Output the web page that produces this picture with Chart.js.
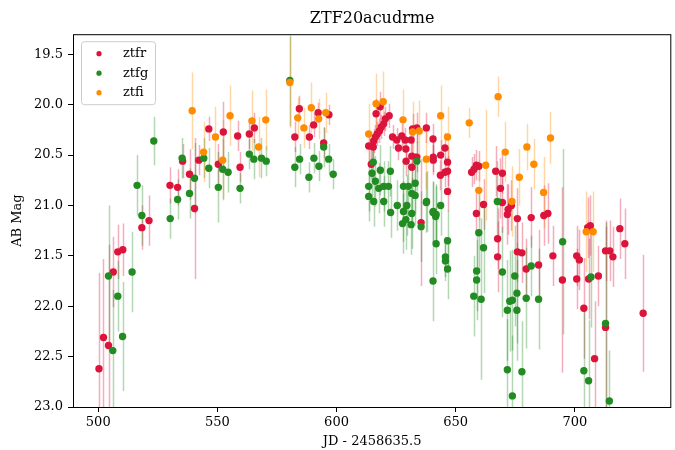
<!DOCTYPE html>
<html>
<head>
<meta charset="utf-8">
<script src="https://cdn.jsdelivr.net/npm/chart.js@4"></script>
<style>
  body { margin: 0; background: #fff; }
  #wrap { width: 675px; height: 450px; }
</style>
</head>
<body>
<div id="wrap"><canvas id="lc" width="675" height="450"></canvas></div>
<script>
// Light curve data (JD - 2458635.5, AB mag, error)
const rX = [500.3, 502.2, 504.3, 506.3, 508.2, 510.3, 518.3, 521.3, 530.1, 533.3, 535.4, 538.3, 540.4, 542.2, 546.4, 550.4, 552.5, 558.5, 559.5, 563.4, 565.5,
  582.5, 584.4, 588.6, 590.4, 592.3, 594.6, 596.8,
  613.5, 614.6, 615.4, 615.6, 616.3, 616.6, 617.1, 618.0, 618.3, 618.8, 619.8, 620.5, 622.1, 623.5, 625.3, 626.0, 627.4, 628.8, 629.1, 629.2,
  631.3, 631.6, 631.6, 631.9, 633.7, 633.7, 635.5, 637.7, 640.5, 640.6, 640.6, 643.6, 643.7, 645.5, 645.5, 646.6, 646.6, 646.6,
  656.7, 657.7, 658.7, 659.7, 658.7, 661.7, 666.8, 667.6, 667.6, 668.8, 669.6, 669.6, 671.7, 672.0, 673.4, 675.9, 675.9, 677.8, 679.6,
  681.7, 684.8, 687.0, 688.7, 690.8, 694.8, 700.8, 700.8, 701.9, 703.8, 705.4, 706.5, 705.8, 708.3, 709.9, 712.9, 712.9, 714.7, 716.0,
  718.9, 721.0, 728.7];
const rY = [22.62, 22.31, 22.39, 21.66, 21.46, 21.44, 21.22, 21.15, 20.80, 20.82, 20.56, 20.69, 21.03, 20.55, 20.24, 20.59, 20.27, 20.31, 20.62, 20.29, 20.23,
  20.32, 20.04, 20.32, 20.20, 20.08, 20.38, 20.10,
  20.41, 20.59, 20.42, 20.36, 20.32, 20.09, 20.29, 20.26, 20.02, 20.22, 20.19, 20.14, 20.11, 20.32, 20.35, 20.43, 20.31, 20.35, 20.44, 20.56,
  20.35, 20.51, 20.62, 20.24, 20.23, 20.52, 21.17, 20.23, 20.34, 20.52, 20.55, 20.70, 20.50, 20.43, 20.67, 20.57, 20.66, 20.86,
  20.67, 20.64, 20.60, 20.61, 21.08, 20.99, 20.66, 21.33, 21.51, 20.83, 20.68, 20.97, 21.09, 21.04, 21.00, 21.13, 21.46, 21.47, 21.63,
  21.12, 21.59, 21.10, 21.08, 21.50, 21.74, 21.50, 21.73, 21.54, 22.02, 21.22, 21.20, 21.73, 22.52, 21.70, 21.45, 22.21, 21.45, 21.51,
  21.23, 21.38, 22.07];
const rErr = [0.95, 0.78, 1.0, 0.35, 0.27, 0.26, 0.22, 0.25, 0.18, 0.18, 0.17, 0.25, 0.7, 0.15, 0.12, 0.2, 0.3, 0.15, 0.15, 0.15, 0.15,
  0.15, 0.13, 0.12, 0.12, 0.1, 0.15, 0.1,
  0.15, 0.15, 0.12, 0.12, 0.12, 0.15, 0.12, 0.12, 0.15, 0.12, 0.12, 0.12, 0.12, 0.12, 0.12, 0.12, 0.12, 0.12, 0.12, 0.15,
  0.12, 0.15, 0.15, 0.15, 0.15, 0.15, 0.63, 0.15, 0.15, 0.15, 0.15, 0.15, 0.15, 0.15, 0.15, 0.15, 0.15, 0.2,
  0.15, 0.15, 0.15, 0.15, 0.2, 0.25, 0.25, 0.3, 0.35, 0.3, 0.2, 0.3, 0.3, 0.25, 0.25, 0.3, 0.3, 0.3, 0.3,
  0.3, 0.35, 0.3, 0.3, 0.3, 0.92, 0.3, 0.3, 0.3, 0.5, 0.3, 0.3, 0.4, 0.57, 0.3, 0.3, 1.0, 0.3, 0.3,
  0.3, 0.35, 0.58];

const gX = [504.3, 506.1, 508.2, 510.2, 514.2, 516.3, 518.3, 523.3, 530.2, 533.3, 535.2, 538.3, 540.4, 544.3, 546.4, 550.4, 552.2, 554.5, 559.5, 563.4, 565.3, 568.5, 570.5,
  580.4, 582.5, 584.5, 588.4, 590.5, 592.6, 594.6, 596.7, 598.6,
  613.5, 613.5, 614.9, 615.4, 615.6, 616.3, 617.7, 618.4, 619.8, 619.8, 621.8, 622.6, 622.7, 625.5, 627.7, 628.1, 628.1, 629.1, 629.5, 630.2,
  631.3, 631.6, 631.6, 633.0, 633.0, 633.7, 635.5, 637.7, 637.8, 640.5, 640.5, 640.6, 641.6, 641.8, 641.8, 643.7, 645.7, 645.7, 646.6, 646.6,
  657.6, 658.8, 658.8, 659.7, 660.7, 661.7, 667.5, 669.6, 671.7, 671.7, 672.7, 673.8, 673.8, 674.8, 675.7, 675.7, 677.8, 679.6, 681.7, 684.8,
  694.9, 703.8, 705.8, 706.8, 712.9, 714.5];
const gY = [21.70, 22.44, 21.90, 22.30, 21.66, 20.80, 21.10, 20.36, 21.13, 20.94, 20.53, 20.88, 20.73, 20.53, 20.63, 20.82, 20.64, 20.67, 20.83, 20.49, 20.54, 20.53, 20.56,
  19.76, 20.62, 20.54, 20.72, 20.53, 20.61, 20.42, 20.54, 20.69,
  20.81, 20.91, 20.68, 20.57, 20.96, 20.76, 20.83, 20.65, 20.81, 20.96, 20.81, 20.66, 21.07, 21.00, 21.18, 20.81, 21.06, 21.14, 21.00, 20.81,
  21.19, 20.88, 21.08, 20.90, 20.78, 20.56, 21.21, 20.97, 20.96, 21.07, 21.75, 21.06, 21.11, 21.09, 21.38, 21.00, 21.51, 21.55, 21.35, 21.63,
  21.90, 21.65, 21.74, 21.27, 21.93, 21.42, 20.96, 21.66, 22.04, 22.63, 21.95, 21.94, 22.89, 21.70, 21.87, 22.04, 22.65, 21.92, 21.60, 21.93,
  21.36, 22.64, 22.74, 21.71, 22.17, 22.94];
const gErr = [0.7, 0.6, 0.35, 0.54, 0.4, 0.3, 0.3, 0.24, 0.2, 0.2, 0.2, 0.25, 0.35, 0.2, 0.2, 0.35, 0.3, 0.2, 0.15, 0.15, 0.2, 0.2, 0.15,
  0.45, 0.2, 0.15, 0.15, 0.15, 0.15, 0.2, 0.15, 0.15,
  0.25, 0.25, 0.25, 0.2, 0.25, 0.25, 0.25, 0.25, 0.25, 0.25, 0.25, 0.25, 0.25, 0.25, 0.3, 0.25, 0.3, 0.3, 0.3, 0.3,
  0.3, 0.3, 0.35, 0.3, 0.3, 0.3, 0.35, 0.3, 0.3, 0.3, 0.4, 0.3, 0.3, 0.3, 0.3, 0.3, 0.2, 0.2, 0.3, 0.3,
  0.4, 0.4, 0.4, 0.4, 0.8, 0.45, 0.4, 0.45, 0.5, 0.5, 0.5, 0.5, 0.6, 0.5, 0.5, 0.5, 0.5, 0.5, 0.3, 0.5,
  0.92, 0.6, 0.6, 0.5, 1.0, 0.5];

const iX = [539.4, 544.2, 549.2, 552.2, 555.3, 564.5, 567.3, 570.3, 580.4, 583.7, 586.3, 589.4, 592.5, 595.5,
  613.5, 616.6, 619.6, 627.9, 631.9, 634.7, 637.7, 643.7, 646.6,
  655.7, 659.7, 662.6, 667.8, 670.8, 673.6, 676.7, 679.9, 682.8, 686.9, 689.8, 704.8, 707.7];
const iY = [20.06, 20.47, 20.32, 20.55, 20.11, 20.16, 20.42, 20.15, 19.78, 20.13, 20.23, 20.03, 20.14, 20.08,
  20.29, 19.99, 19.97, 20.15, 20.27, 20.26, 20.54, 20.11, 20.32,
  20.18, 20.85, 20.60, 19.92, 20.47, 20.96, 20.72, 20.42, 20.59, 20.87, 20.33, 21.26, 21.26];
const iErr = [0.38, 0.3, 0.3, 0.4, 0.3, 0.3, 0.3, 0.3, 0.45, 0.2, 0.2, 0.25, 0.2, 0.2,
  0.3, 0.3, 0.3, 0.3, 0.3, 0.3, 0.3, 0.3, 0.3,
  0.15, 0.3, 0.55, 0.2, 0.3, 0.35, 0.28, 0.23, 0.25, 0.35, 0.26, 0.4, 0.4];

const xTicks = [500, 550, 600, 650, 700];
const yTicks = [19.5, 20.0, 20.5, 21.0, 21.5, 22.0, 22.5, 23.0];

const FONT = "'DejaVu Serif', serif";

function pts(xs, ys) {
    return xs.map((x, i) => ({ x: x, y: ys[i] }));
}

// vertical error bars, drawn under the markers
const errorBars = {
    id: 'errorBars',
    beforeDatasetsDraw(chart) {
        const ctx = chart.ctx;
        const area = chart.chartArea;
        const xs = chart.scales.x, ys = chart.scales.y;
        ctx.save();
        ctx.beginPath();
        ctx.rect(area.left, area.top, area.right - area.left, area.bottom - area.top);
        ctx.clip();
        ctx.lineWidth = 1.5;
        chart.data.datasets.forEach(ds => {
            ctx.strokeStyle = ds.errColor;
            ds.data.forEach((p, j) => {
                const e = ds.errors[j];
                const px = Math.round(xs.getPixelForValue(p.x)) + 0.5;
                ctx.beginPath();
                ctx.moveTo(px, ys.getPixelForValue(p.y - e));
                ctx.lineTo(px, ys.getPixelForValue(p.y + e));
                ctx.stroke();
            });
        });
        ctx.restore();
    }
};

// frame + legend box in the upper left
const frameLegend = {
    id: 'frameLegend',
    afterDraw(chart) {
        const ctx = chart.ctx;
        const a = chart.chartArea;
        ctx.save();
        ctx.strokeStyle = '#000';
        ctx.lineWidth = 1;
        ctx.strokeRect(a.left + 0.5, a.top + 0.5, a.right - a.left - 1, a.bottom - a.top);

        const bx = a.left + 8, by = a.top + 7, bw = 74, bh = 63;
        ctx.fillStyle = 'rgba(255,255,255,0.8)';
        ctx.strokeStyle = '#cccccc';
        ctx.beginPath();
        ctx.roundRect(bx + 0.5, by + 0.5, bw, bh, 3);
        ctx.fill();
        ctx.stroke();

        ctx.font = '13px ' + FONT;
        ctx.textBaseline = 'middle';
        chart.data.datasets.forEach((ds, i) => {
            const y = by + 12.5 + i * 19.5;
            ctx.fillStyle = ds.backgroundColor;
            ctx.beginPath();
            ctx.arc(bx + 18, y, 2.6, 0, Math.PI * 2);
            ctx.fill();
            ctx.fillStyle = '#000';
            ctx.fillText(ds.label, bx + 42, y);
        });
        ctx.restore();
    }
};

new Chart(document.getElementById('lc'), {
    type: 'scatter',
    data: {
        datasets: [
            { label: 'ztfr', data: pts(rX, rY), errors: rErr, backgroundColor: '#dc143c', errColor: 'rgba(220,20,60,0.35)', order: 3 },
            { label: 'ztfg', data: pts(gX, gY), errors: gErr, backgroundColor: '#228b22', errColor: 'rgba(34,139,34,0.35)', order: 2 },
            { label: 'ztfi', data: pts(iX, iY), errors: iErr, backgroundColor: '#ff8c00', errColor: 'rgba(255,140,0,0.35)', order: 1 }
        ]
    },
    options: {
        responsive: false,
        animation: false,
        devicePixelRatio: 1,
        layout: { padding: { left: 0, right: 1, top: 0, bottom: 0 } },
        elements: { point: { radius: 3.7, borderWidth: 0, hoverRadius: 3.7 } },
        plugins: {
            legend: { display: false },
            tooltip: { enabled: false },
            title: {
                display: true,
                fullSize: false,
                text: 'ZTF20acudrme',
                color: '#000',
                font: { family: FONT, size: 16, weight: 'normal' },
                padding: { top: 9, bottom: 6 }
            }
        },
        scales: {
            x: {
                type: 'linear',
                min: 489.4,
                max: 740.5,
                afterBuildTicks: s => { s.ticks = xTicks.map(v => ({ value: v })); },
                afterFit: s => { s.height = 43; },
                grid: { drawOnChartArea: false, color: '#000', tickLength: 5 },
                border: { display: false },
                ticks: { color: '#000', font: { family: FONT, size: 13 }, padding: 3, maxRotation: 0 },
                title: { display: true, text: 'JD - 2458635.5', color: '#000', font: { family: FONT, size: 13 }, padding: { top: 0, bottom: 1 } }
            },
            y: {
                reverse: true,
                min: 19.3,
                max: 23.0,
                afterBuildTicks: s => { s.ticks = yTicks.map(v => ({ value: v })); },
                afterFit: s => { s.width = 73; },
                grid: { drawOnChartArea: false, color: '#000', tickLength: 5 },
                border: { display: false },
                ticks: { color: '#000', font: { family: FONT, size: 13 }, padding: 5, callback: v => v.toFixed(1) },
                title: { display: true, text: 'AB Mag', color: '#000', font: { family: FONT, size: 13 }, padding: { top: 10, bottom: 0 } }
            }
        }
    },
    plugins: [errorBars, frameLegend]
});
</script>
</body>
</html>
